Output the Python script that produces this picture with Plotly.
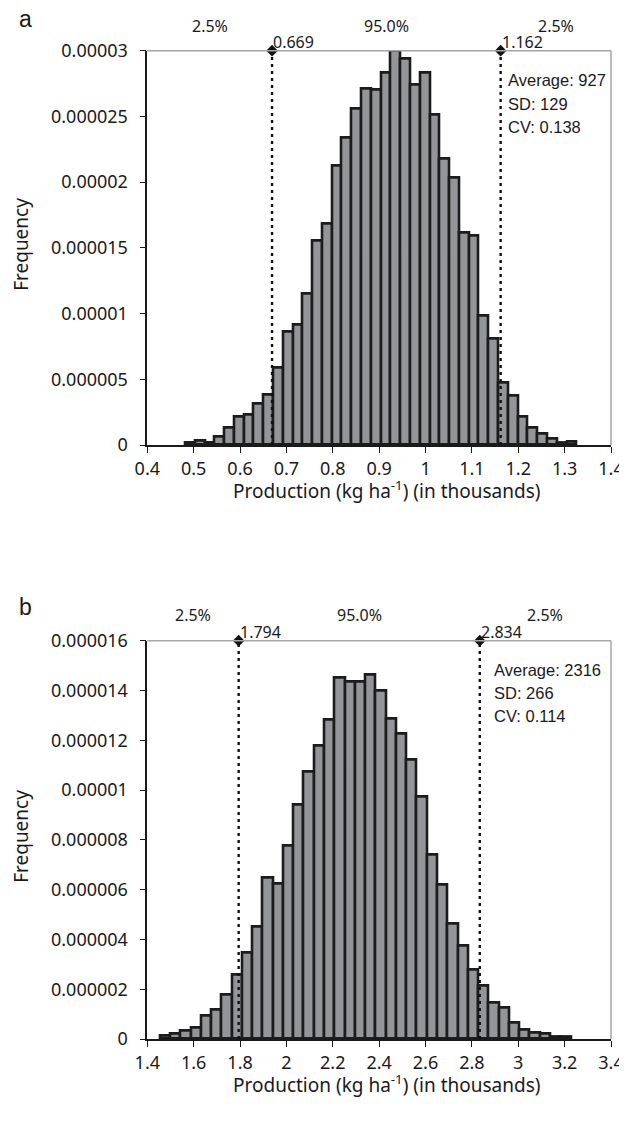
import plotly.graph_objects as go

# page body has an 8px default margin: the figure is sized/offset to compensate
PAGE_W, PAGE_H, BODY_MARGIN = 627, 1125, 8
W, H = PAGE_W - BODY_MARGIN, PAGE_H - 2 * BODY_MARGIN

# ---------------- data ----------------
# Panel a: production histogram (thousands kg/ha), 40 bins
a_bin_start = 0.4818
a_bin_width = 0.0211
a_freq_e6 = [0.15, 0.30, 0.17, 0.61, 1.29, 2.13, 2.31, 3.15, 3.86, 5.89,
             8.63, 9.13, 11.49, 15.53, 16.80, 21.23, 23.39, 25.55, 27.14, 27.02,
             28.29, 29.98, 29.38, 27.45, 28.36, 25.11, 21.82, 20.34, 16.16, 15.93,
             9.84, 8.12, 4.77, 3.73, 2.13, 1.32, 0.89, 0.46, 0.18, 0.28]
a_lo, a_hi = 0.669, 1.162
a_lo_text, a_hi_text = "0.669", "1.162"
a_stats = ["Average: 927", "SD: 129", "CV: 0.138"]
a_pct = ["2.5%", "95.0%", "2.5%"]
a_xrange = [0.4, 1.4]
a_yrange = [0, 0.00003]
a_xticks = [0.4, 0.5, 0.6, 0.7, 0.8, 0.9, 1.0, 1.1, 1.2, 1.3, 1.4]
a_xticktext = ["0.4", "0.5", "0.6", "0.7", "0.8", "0.9", "1", "1.1", "1.2", "1.3", "1.4"]
a_yticks = [0, 0.000005, 0.00001, 0.000015, 0.00002, 0.000025, 0.00003]
a_yticktext = ["0", "0.000005", "0.00001", "0.000015", "0.00002", "0.000025", "0.00003"]

# Panel b
b_bin_start = 1.4547
b_bin_width = 0.0443
b_freq_e6 = [0.13, 0.20, 0.33, 0.47, 0.94, 1.16, 1.76, 2.57, 3.48, 4.51,
             6.49, 6.25, 7.76, 9.40, 10.74, 11.77, 12.81, 14.52, 14.35, 14.35,
             14.62, 13.99, 12.88, 12.28, 11.20, 9.74, 7.39, 6.21, 4.62, 3.75,
             2.77, 2.14, 1.47, 1.27, 0.66, 0.39, 0.27, 0.20, 0.09, 0.08]
b_lo, b_hi = 1.794, 2.834
b_lo_text, b_hi_text = "1.794", "2.834"
b_stats = ["Average: 2316", "SD: 266", "CV: 0.114"]
b_pct = ["2.5%", "95.0%", "2.5%"]
b_xrange = [1.4, 3.4]
b_yrange = [0, 0.000016]
b_xticks = [1.4, 1.6, 1.8, 2.0, 2.2, 2.4, 2.6, 2.8, 3.0, 3.2, 3.4]
b_xticktext = ["1.4", "1.6", "1.8", "2", "2.2", "2.4", "2.6", "2.8", "3", "3.2", "3.4"]
b_yticks = [0, 0.000002, 0.000004, 0.000006, 0.000008, 0.00001, 0.000012, 0.000014, 0.000016]
b_yticktext = ["0", "0.000002", "0.000004", "0.000006", "0.000008", "0.00001",
               "0.000012", "0.000014", "0.000016"]

panel_labels = ["a", "b"]
x_title = "Production (kg ha<sup>-1</sup>) (in thousands)"
y_title = "Frequency"

# ---------------- style ----------------
BAR_FILL = "#939598"
BAR_LINE = "#1c1c1c"
AX_DARK = "#1a1a1a"
FRAME = "#a6a6a6"
TICK_FONT = dict(family="Noto Sans", size=18, color="#1a1a1a")
SMALL_FONT = dict(family="Noto Sans", size=16, color="#1a1a1a")
STAT_FONT = dict(family="Liberation Sans", size=16.5, color="#1a1a1a")
TITLE_FONT = dict(family="Noto Sans", size=19, color="#1a1a1a")
LABEL_FONT = dict(family="Liberation Sans", size=23, color="#1a1a1a")


def py(p):  # screen pixel row -> paper y
    return 1 - (p - BODY_MARGIN) / H


def pxx(p):  # screen pixel col -> paper x
    return (p - BODY_MARGIN) / W


X_DOM = [pxx(147.3), pxx(611.0)]
panels = [
    dict(start=a_bin_start, width=a_bin_width, freq=a_freq_e6, lo=a_lo, hi=a_hi,
         lo_t=a_lo_text, hi_t=a_hi_text, stats=a_stats, pct=a_pct, xr=a_xrange, yr=a_yrange,
         xt=a_xticks, xtt=a_xticktext, yt=a_yticks, ytt=a_yticktext,
         top=50.7, bot=445.0, stat_x=506.0, stat_y=[80.3, 103.5, 126.7], pct_y=26.0,
         label=panel_labels[0], label_y=19.0),
    dict(start=b_bin_start, width=b_bin_width, freq=b_freq_e6, lo=b_lo, hi=b_hi,
         lo_t=b_lo_text, hi_t=b_hi_text, stats=b_stats, pct=b_pct, xr=b_xrange, yr=b_yrange,
         xt=b_xticks, xtt=b_xticktext, yt=b_yticks, ytt=b_yticktext,
         top=640.7, bot=1039.0, stat_x=491.7, stat_y=[670.0, 693.0, 715.5], pct_y=615.5,
         label=panel_labels[1], label_y=607.0),
]

fig = go.Figure()
annotations = []
shapes = []

for i, p in enumerate(panels):
    n = i + 1
    xa = "x" if n == 1 else f"x{n}"
    ya = "y" if n == 1 else f"y{n}"
    centers = [p["start"] + (k + 0.5) * p["width"] for k in range(len(p["freq"]))]
    freqs = [v * 1e-6 for v in p["freq"]]
    fig.add_trace(go.Bar(x=centers, y=freqs, width=p["width"], xaxis=xa, yaxis=ya,
                         marker=dict(color=BAR_FILL, line=dict(color=BAR_LINE, width=2.6)),
                         showlegend=False, hoverinfo="skip"))
    ymax = p["yr"][1]
    for xv in (p["lo"], p["hi"]):
        fig.add_trace(go.Scatter(x=[xv, xv], y=[0, ymax], mode="lines", xaxis=xa, yaxis=ya,
                                 line=dict(color="#111111", width=2.4, dash="3px,4px"),
                                 showlegend=False, hoverinfo="skip", cliponaxis=False))
    fig.add_trace(go.Scatter(x=[p["lo"], p["hi"]], y=[ymax, ymax], mode="markers",
                             xaxis=xa, yaxis=ya, cliponaxis=False,
                             marker=dict(symbol="diamond", size=9, color="#111111"),
                             showlegend=False, hoverinfo="skip"))

    ax_common = dict(showgrid=False, zeroline=False, showline=True, linecolor=AX_DARK,
                     linewidth=1.6, ticks="outside", ticklen=6, tickwidth=1.2,
                     tickcolor=AX_DARK, tickfont=TICK_FONT, automargin=False)
    fig.update_layout(**{
        ("xaxis" if n == 1 else f"xaxis{n}"): dict(
            ax_common, domain=X_DOM, range=p["xr"], tickvals=p["xt"], ticktext=p["xtt"],
            anchor=ya, ticklabelstandoff=1),
        ("yaxis" if n == 1 else f"yaxis{n}"): dict(
            ax_common, domain=[py(p["bot"]), py(p["top"])], range=p["yr"],
            tickvals=p["yt"], ticktext=p["ytt"], anchor=xa, ticklabelstandoff=8),
    })
    # top / right frame in grey
    shapes.append(dict(type="line", xref=f"{xa} domain", yref=f"{ya} domain",
                       x0=0, x1=1, y0=1, y1=1, line=dict(color=FRAME, width=1.5)))
    shapes.append(dict(type="line", xref=f"{xa} domain", yref=f"{ya} domain",
                       x0=1, x1=1, y0=0, y1=1, line=dict(color=FRAME, width=1.5)))

    # percentile values near markers
    for xv, t in ((p["lo"], p["lo_t"]), (p["hi"], p["hi_t"])):
        annotations.append(dict(x=xv, y=ymax, xref=xa, yref=ya, text=t, showarrow=False,
                                xanchor="left", yanchor="bottom", font=SMALL_FONT,
                                xshift=-1, yshift=-4))
    # percentage labels above plot
    mids = [(p["xr"][0] + p["lo"]) / 2, (p["lo"] + p["hi"]) / 2, (p["hi"] + p["xr"][1]) / 2]
    for xv, t in zip(mids, p["pct"]):
        annotations.append(dict(x=xv, y=py(p["pct_y"]), xref=xa, yref="paper", text=t,
                                showarrow=False, xanchor="center", yanchor="middle",
                                font=SMALL_FONT))
    # stats
    for t, yy in zip(p["stats"], p["stat_y"]):
        annotations.append(dict(x=pxx(p["stat_x"]), y=py(yy), xref="paper", yref="paper",
                                text=t, showarrow=False, xanchor="left", yanchor="middle",
                                font=STAT_FONT))
    # axis titles
    annotations.append(dict(x=pxx(21), y=py((p["top"] + p["bot"]) / 2 - 3), xref="paper",
                            yref="paper", text=y_title, textangle=-90, showarrow=False,
                            xanchor="center", yanchor="middle", font=TITLE_FONT))
    annotations.append(dict(x=pxx(386), y=py(p["bot"] + 45), xref="paper", yref="paper",
                            text=x_title, showarrow=False, xanchor="center",
                            yanchor="middle", font=TITLE_FONT))
    annotations.append(dict(x=pxx(25), y=py(p["label_y"]), xref="paper", yref="paper",
                            text=p["label"], showarrow=False, xanchor="center",
                            yanchor="middle", font=LABEL_FONT))

fig.update_layout(width=W, height=H,
                  margin=dict(l=0, r=0, t=0, b=0, pad=0, autoexpand=False),
                  paper_bgcolor="white", plot_bgcolor="white", bargap=0,
                  annotations=annotations, shapes=shapes, showlegend=False)

fig.write_html("out.html")
